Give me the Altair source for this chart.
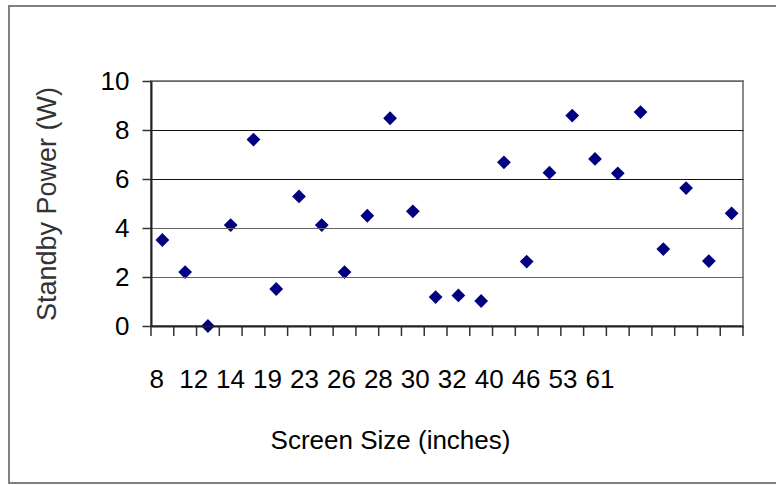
import altair as alt
import pandas as pd

# Standby power readings (W), in category order
power = [3.51, 2.20, 0.0, 4.12, 7.61, 1.51, 5.29, 4.12, 2.20, 4.50, 8.48, 4.68, 1.18,
         1.25, 1.02, 6.68, 2.63, 6.26, 8.59, 6.82, 6.23, 8.73, 3.14, 5.63, 2.65, 4.60]
# Category labels as printed under the axis
size_labels = ["8", "12", "14", "19", "23", "26", "28", "30", "32", "40", "46", "53", "61"]
y_ticks = [0, 2, 4, 6, 8, 10]

FONT = "Liberation Sans"

pts = pd.DataFrame({"cat": list(range(len(power))), "power": power})
labs = pd.DataFrame({"pos": list(range(len(size_labels))), "label": size_labels})

n = len(power)
edges = pd.DataFrame({"edge": [i - 0.5 for i in range(n + 1)]})
xscale = alt.Scale(domain=[-0.5, n - 0.5], nice=False, zero=False)

points = alt.Chart(pts).mark_point(
    shape="diamond", filled=True, size=190, color="#000080", opacity=1
).encode(
    x=alt.X("cat:Q", scale=xscale,
            axis=alt.Axis(labels=False, grid=False, ticks=False,
                          domainColor="#222222", domainWidth=2,
                          title="Screen Size (inches)", titleFont=FONT,
                          titleFontSize=26, titleFontWeight="normal",
                          titleColor="#000000", titleX=239, titleY=122,
                          titleAlign="center", titleBaseline="alphabetic",
                          zindex=1)),
    y=alt.Y("power:Q",
            scale=alt.Scale(domain=[0, 10], nice=False),
            axis=alt.Axis(values=y_ticks, tickSize=9, tickColor="#333333",
                          tickWidth=1.5, domainColor="#222222", domainWidth=2,
                          labelFont=FONT, labelFontSize=26, labelColor="#000000",
                          labelPadding=13,
                          grid=True, gridWidth=1.2,
                          gridColor={"condition": {"test": "datum.value == 6 || datum.value == 8",
                                                   "value": "#111111"},
                                     "value": "#666666"},
                          title="Standby Power  (W)", titleFont=FONT,
                          titleFontSize=27, titleFontWeight="normal",
                          titleColor="#333333", titleX=-104, titleY=122.5,
                          titleAngle=-90, titleAlign="center",
                          titleBaseline="middle", zindex=1)),
)

xticks = alt.Chart(edges).mark_rule(color="#333333", strokeWidth=1.5).encode(
    x=alt.X("edge:Q", scale=xscale, axis=None),
    y=alt.value(245),
    y2=alt.value(255),
)

labels = alt.Chart(labs).mark_text(
    font=FONT, fontSize=26, color="#000000", align="center", baseline="alphabetic"
).encode(
    x=alt.X("pos:Q", scale=alt.Scale(domain=[-0.154, 15.872], nice=False, zero=False),
            axis=None),
    y=alt.value(307),
    text="label:N",
)

frame = alt.Chart(alt.Data(values=[{"a": 1}])).mark_rect(
    fill=None, stroke="#808080", strokeWidth=2
).encode(
    x=alt.value(-142), x2=alt.value(640), y=alt.value(-75), y2=alt.value(402)
)

chart = alt.layer(frame, xticks, points, labels).resolve_scale(x="independent").properties(
    width=592, height=245,
    autosize=alt.AutoSizeParams(type="none"),
    padding={"left": 151, "top": 81, "right": 33, "bottom": 159},
    background="white",
).configure_view(stroke="#8a8a8a", strokeWidth=2)

chart.save("out.html", embed_options={"renderer": "svg", "actions": False})
